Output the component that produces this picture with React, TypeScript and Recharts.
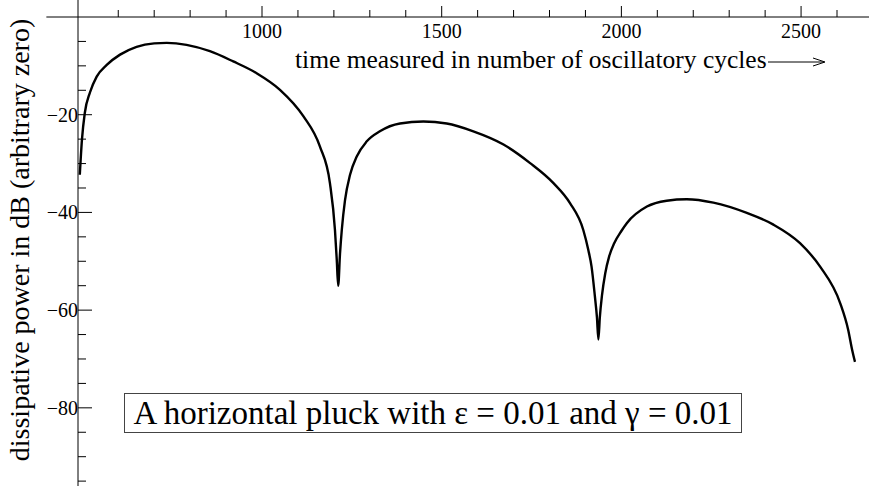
import React from "react";
import { LineChart, Line, XAxis, YAxis, ReferenceLine } from "recharts";

const times = [
  493, 499, 507, 521, 540, 568, 605, 651, 700, 735, 790, 855, 920, 985, 1050,
  1115, 1161, 1189, 1203, 1208, 1212, 1217, 1222, 1231, 1245, 1264, 1291, 1328,
  1384, 1449, 1514, 1588, 1672, 1746, 1811, 1857, 1894, 1908, 1917, 1926, 1932,
  1936, 1940, 1946, 1955, 1966, 1980, 2000, 2015, 2071, 2126, 2182, 2256, 2349,
  2423, 2497, 2553, 2609, 2631, 2642, 2650,
];
const powerDb = [
  -32.3, -25.1, -19.6, -15.5, -12.2, -9.8, -7.7, -6.1, -5.4, -5.3, -5.7, -7.0,
  -9.1, -11.5, -14.9, -20.3, -26.5, -34.0, -43.6, -49.7, -55.0, -48.5, -43.6,
  -37.5, -32.3, -28.5, -25.5, -23.4, -21.8, -21.4, -21.8, -23.4, -26.1, -29.9,
  -34.0, -38.1, -43.6, -47.7, -51.1, -57.0, -61.5, -66.0, -61.5, -57.0, -52.5,
  -49.0, -46.3, -43.8, -42.2, -38.8, -37.6, -37.3, -38.0, -40.1, -42.5, -46.3,
  -51.1, -58.6, -64.0, -68.1, -70.6,
];
const xTicks = [600, 700, 800, 900, 1000, 1100, 1200, 1300, 1400, 1500, 1600, 1700, 1800, 1900, 2000, 2100, 2200, 2300, 2400, 2500, 2600];
const xMajor = [1000, 1500, 2000, 2500];
const yTicks = [-95, -90, -85, -80, -75, -70, -65, -60, -55, -50, -45, -40, -35, -30, -25, -20, -15, -10, -5];
const yMajor = [-20, -40, -60, -80];

const xLabel = "time measured in number of oscillatory cycles";
const yLabel = "dissipative power in dB (arbitrary zero)";
const note = "A horizontal pluck with \u03b5 = 0.01 and \u03b3 = 0.01";

const data = times.map((t, i) => ({ t, db: powerDb[i] }));

const FONT = "Liberation Serif, Times New Roman, serif";

const renderXTick = (props: any) => {
  const { x, y, payload } = props;
  const v = payload.value;
  const major = xMajor.includes(v);
  return (
    <g key={"xt" + v}>
      <line x1={x} x2={x} y1={y - (major ? 11 : 7)} y2={y} stroke="#000" strokeWidth={1} />
      {major && (
        <text x={x} y={y + 21} textAnchor="middle" fontFamily={FONT} fontSize={20} fill="#000">
          {v}
        </text>
      )}
    </g>
  );
};

const renderYTick = (props: any) => {
  const { x, y, payload } = props;
  const v = payload.value;
  const major = yMajor.includes(v);
  return (
    <g key={"yt" + v}>
      <line x1={x} x2={x + (major ? 14 : 8)} y1={y} y2={y} stroke="#000" strokeWidth={1} />
      {major && (
        <text x={x} y={y + 7} textAnchor="end" fontFamily={FONT} fontSize={20} fill="#000">
          {"\u2212" + Math.abs(v)}
        </text>
      )}
    </g>
  );
};

export default function App() {
  return (
    <div style={{ position: "absolute", left: 0, top: 0, width: 869, height: 489, background: "#fff" }}>
      <LineChart width={869} height={489} data={data} margin={{ top: 16, right: 0, left: 77, bottom: 3 }}>
        <XAxis
          dataKey="t"
          type="number"
          orientation="top"
          domain={[488, 2689]}
          ticks={xTicks}
          interval={0}
          height={1}
          tickSize={0}
          tickMargin={0}
          axisLine={false}
          tickLine={false}
          tick={renderXTick}
          allowDataOverflow
        />
        <YAxis
          type="number"
          domain={[-96, 0]}
          ticks={yTicks}
          interval={0}
          width={1}
          tickSize={0}
          tickMargin={0}
          axisLine={false}
          tickLine={false}
          tick={renderYTick}
          allowDataOverflow
        />
        <ReferenceLine
          segment={[{ x: 400, y: 0 }, { x: 2689, y: 0 }]}
          stroke="#000"
          strokeWidth={1}
          ifOverflow="visible"
        />
        <ReferenceLine
          segment={[{ x: 488, y: -96 }, { x: 488, y: 3.5 }]}
          stroke="#000"
          strokeWidth={1}
          ifOverflow="visible"
        />
        <Line
          dataKey="db"
          type="monotone"
          stroke="#000"
          strokeWidth={2.4}
          dot={false}
          isAnimationActive={false}
        />
      </LineChart>
      <svg
        width={869}
        height={489}
        style={{ position: "absolute", left: 0, top: 0, pointerEvents: "none" }}
      >
        <text x={295} y={68} fontFamily={FONT} fontSize={25.5} fill="#000">
          {xLabel}
        </text>
        <line x1={768} x2={824} y1={62} y2={62} stroke="#000" strokeWidth={1} />
        <polyline points="813,58 825,62 813,66" fill="none" stroke="#000" strokeWidth={1} />
        <text
          x={0}
          y={0}
          transform="translate(29,240) rotate(-90)"
          textAnchor="middle"
          fontFamily={FONT}
          fontSize={28}
          fill="#000"
        >
          {yLabel}
        </text>
      </svg>
      <div
        style={{
          position: "absolute",
          left: 124,
          top: 393,
          width: 616,
          height: 38,
          border: "1px solid #444",
          fontFamily: FONT,
          fontSize: 33,
          lineHeight: "38px",
          textAlign: "center",
          color: "#000",
          whiteSpace: "nowrap",
        }}
      >
        {note}
      </div>
    </div>
  );
}
